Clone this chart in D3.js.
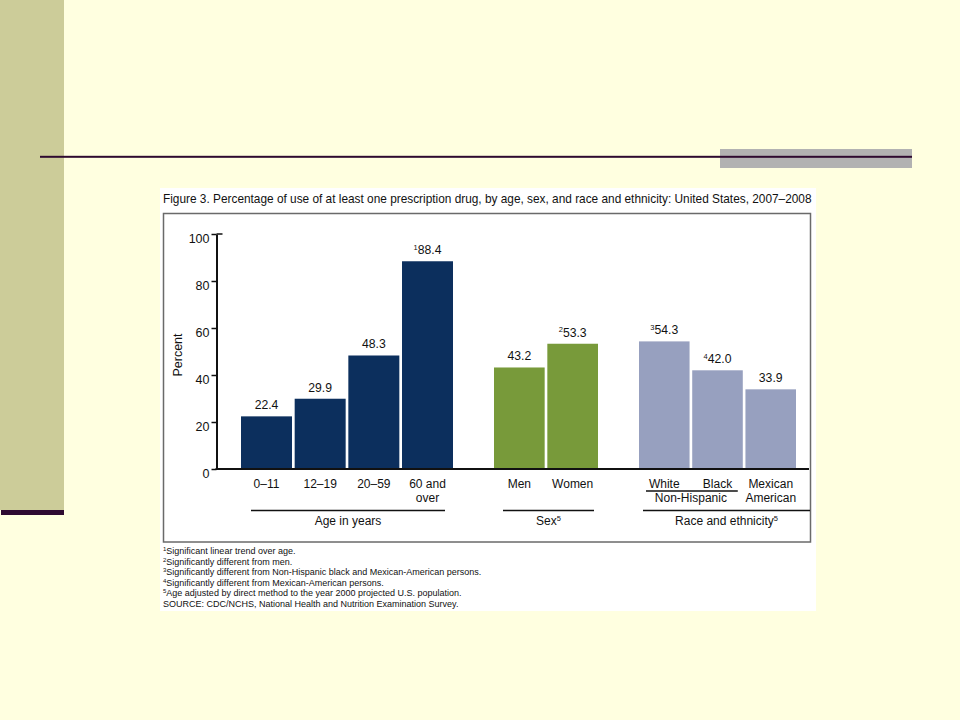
<!DOCTYPE html>
<html>
<head>
<meta charset="utf-8">
<script src="https://cdn.jsdelivr.net/npm/d3@7"></script>
<style>
  html, body { margin: 0; padding: 0; background: #ffffe0; }
  svg { display: block; }
  text { font-family: Arial, "Liberation Sans", Helvetica, sans-serif; fill: #111; }
</style>
</head>
<body>
<svg id="chart" width="960" height="720"></svg>
<script>
// ---------- data ----------
const titleText = "Figure 3. Percentage of use of at least one prescription drug, by age, sex, and race and ethnicity: United States, 2007–2008";
const ageLabels = [["0–11"], ["12–19"], ["20–59"], ["60 and", "over"]];
const ageValues = [22.4, 29.9, 48.3, 88.4];
const ageNotes = ["", "", "", "1"];
const sexLabels = [["Men"], ["Women"]];
const sexValues = [43.2, 53.3];
const sexNotes = ["", "2"];
const raceLabels = [["White"], ["Black"], ["Mexican", "American"]];
const raceValues = [54.3, 42.0, 33.9];
const raceNotes = ["3", "4", ""];
const groupTitles = ["Age in years", "Sex", "Race and ethnicity"];
const groupTitleNotes = ["", "5", "5"];
const yTicks = [0, 20, 40, 60, 80, 100];
const yLabel = "Percent";
const footNotes = [
  ["1", "Significant linear trend over age."],
  ["2", "Significantly different from men."],
  ["3", "Significantly different from Non-Hispanic black and Mexican-American persons."],
  ["4", "Significantly different from Mexican-American persons."],
  ["5", "Age adjusted by direct method to the year 2000 projected U.S. population."],
  ["", "SOURCE: CDC/NCHS, National Health and Nutrition Examination Survey."]
];

// ---------- layout ----------
const svg = d3.select("#chart");
const colors = ["#0c2f5d", "#789a3a", "#97a0bf"];

// slide decoration
svg.append("rect").attr("x", 0).attr("y", 0).attr("width", 960).attr("height", 720).attr("fill", "#ffffe0");
svg.append("rect").attr("x", 0).attr("y", 0).attr("width", 64).attr("height", 510).attr("fill", "#cccc99");
svg.append("rect").attr("x", 1).attr("y", 510).attr("width", 63).attr("height", 5).attr("fill", "#2e0a30");
svg.append("rect").attr("x", 720).attr("y", 149).attr("width", 192).attr("height", 19).attr("fill", "#b2b2b2");
svg.append("rect").attr("x", 40).attr("y", 155.8).attr("width", 872).attr("height", 2).attr("fill", "#2e0a30");

// figure image (white)
svg.append("rect").attr("x", 160).attr("y", 188).attr("width", 656).attr("height", 423).attr("fill", "#ffffff");

svg.append("text").attr("x", 163).attr("y", 202.5)
  .attr("font-size", 11.85).text(titleText);

svg.append("rect").attr("x", 163.5).attr("y", 213.5).attr("width", 647).attr("height", 328.5)
  .attr("fill", "none").attr("stroke", "#6a6a6a").attr("stroke-width", 1.5);

const y = d3.scaleLinear().domain([0, 100]).range([469, 234]);
const axisX = 216.5;

// y axis
const yAxis = svg.append("g").attr("transform", `translate(${axisX},0)`)
  .call(d3.axisLeft(y).tickValues(yTicks).tickSize(5).tickSizeOuter(0).tickFormat(d3.format("d")));
yAxis.select(".domain").attr("stroke", "#111").attr("stroke-width", 2);
yAxis.selectAll(".tick line").attr("stroke", "#111").attr("stroke-width", 1.5);
yAxis.selectAll(".tick text").attr("x", -7).attr("dy", "0.32em").attr("transform", "translate(0,4.5)")
  .attr("font-size", 12.5).attr("font-family", "Arial, 'Liberation Sans', sans-serif").attr("fill", "#111");
svg.append("line").attr("x1", axisX).attr("x2", axisX + 6).attr("y1", y(100)).attr("y2", y(100))
  .attr("stroke", "#111").attr("stroke-width", 1.5);

svg.append("text").attr("transform", `translate(182,355) rotate(-90)`)
  .attr("text-anchor", "middle").attr("font-size", 12.5).text(yLabel);

// groups
const groups = [
  { labels: ageLabels, values: ageValues, notes: ageNotes, range: [241, 453], line: [251, 445] },
  { labels: sexLabels, values: sexValues, notes: sexNotes, range: [494, 598], line: [503, 594] },
  { labels: raceLabels, values: raceValues, notes: raceNotes, range: [639, 796], line: [643, 810] }
];

groups.forEach((g, gi) => {
  const idx = g.values.map((_, i) => i);
  const x = d3.scaleBand().domain(idx).range(g.range).paddingInner(0.05).paddingOuter(0);
  const gg = svg.append("g");
  gg.selectAll("rect.bar").data(idx).join("rect")
    .attr("class", "bar")
    .attr("x", i => x(i))
    .attr("width", x.bandwidth())
    .attr("y", i => y(g.values[i]))
    .attr("height", i => y(0) - y(g.values[i]))
    .attr("fill", colors[gi]);

  // value labels
  const vl = gg.selectAll("text.val").data(idx).join("text")
    .attr("class", "val")
    .attr("x", i => x(i) + x.bandwidth() / 2)
    .attr("y", i => y(g.values[i]) - 7)
    .attr("text-anchor", "middle")
    .attr("font-size", 12.2);
  vl.each(function(i) {
    const t = d3.select(this);
    if (g.notes[i]) {
      t.append("tspan").attr("font-size", 7.5).attr("dy", -4.5).text(g.notes[i]);
      t.append("tspan").attr("dy", 4.5).text(g.values[i].toFixed(1));
    } else {
      t.text(g.values[i].toFixed(1));
    }
  });

  // category labels
  idx.forEach(i => {
    g.labels[i].forEach((ln, li) => {
      gg.append("text")
        .attr("x", x(i) + x.bandwidth() / 2)
        .attr("y", 487.5 + li * 14)
        .attr("text-anchor", "middle")
        .attr("font-size", 12)
        .text(ln);
    });
  });

  // group underline + title
  gg.append("line").attr("x1", g.line[0]).attr("x2", g.line[1]).attr("y1", 510.5).attr("y2", 510.5)
    .attr("stroke", "#111").attr("stroke-width", 1.3);
  const gt = gg.append("text").attr("x", (g.line[0] + g.line[1]) / 2).attr("y", 525)
    .attr("text-anchor", "middle").attr("font-size", 12);
  gt.append("tspan").text(groupTitles[gi]);
  if (groupTitleNotes[gi]) {
    gt.append("tspan").attr("font-size", 7.5).attr("dy", -4.5).text(groupTitleNotes[gi]);
  }

  if (gi === 2) {
    const cx = (x(0) + x(1) + x.bandwidth()) / 2;
    gg.append("line").attr("x1", x(0) + 7).attr("x2", x(1) + x.bandwidth() - 5)
      .attr("y1", 491).attr("y2", 491).attr("stroke", "#111").attr("stroke-width", 1.3);
    gg.append("text").attr("x", cx).attr("y", 501.5).attr("text-anchor", "middle")
      .attr("font-size", 12).text("Non-Hispanic");
  }
});

// x baseline
svg.append("line").attr("x1", axisX - 1).attr("x2", 809).attr("y1", y(0)).attr("y2", y(0))
  .attr("stroke", "#111").attr("stroke-width", 2);

// footnotes
footNotes.forEach((f, i) => {
  const t = svg.append("text").attr("x", 163).attr("y", 554 + i * 10.6).attr("font-size", 9.0);
  if (f[0]) t.append("tspan").attr("font-size", 6).attr("dy", -3).text(f[0]);
  t.append("tspan").attr("dy", f[0] ? 3 : 0).text(f[1]);
});
</script>
</body>
</html>
